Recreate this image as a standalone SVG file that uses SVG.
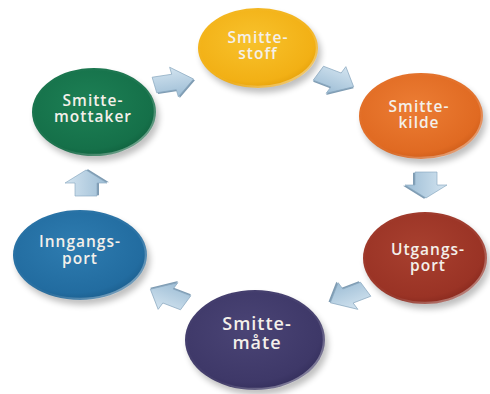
<svg xmlns="http://www.w3.org/2000/svg" width="490" height="394" viewBox="0 0 490 394">
<defs>
<style>
.lbl{font-family:"Open Sans","Liberation Sans",sans-serif;font-weight:600;font-size:15.5px;letter-spacing:1px;fill:#f4f0ea;text-anchor:middle}
.big{font-size:18px;letter-spacing:1px}
.arr{fill:url(#gArr);stroke:#8aa9c0;stroke-width:0.8}
.arrd{fill:#7f9cb3}
.sh{fill:#000;opacity:0.25;filter:url(#blur)}
.rim{fill:none;stroke:url(#gRim);stroke-width:2.5}
</style>
<filter id="blur" x="-20%" y="-20%" width="140%" height="140%"><feGaussianBlur stdDeviation="3"/></filter>
<linearGradient id="gArr" x1="0" y1="0" x2="0" y2="1">
<stop offset="0" stop-color="#d3e4f0"/><stop offset="1" stop-color="#9dbdd5"/>
</linearGradient>
<linearGradient id="gRim" x1="0" y1="0" x2="1" y2="1">
<stop offset="0" stop-color="#fff" stop-opacity="0"/><stop offset="0.6" stop-color="#fff" stop-opacity="0.05"/><stop offset="1" stop-color="#fff" stop-opacity="0.55"/>
</linearGradient>
<radialGradient id="gY" cx="0.45" cy="0.4" r="0.65"><stop offset="0" stop-color="#f8c22c"/><stop offset="0.8" stop-color="#f2b015"/><stop offset="1" stop-color="#e19c08"/></radialGradient>
<radialGradient id="gO" cx="0.45" cy="0.4" r="0.65"><stop offset="0" stop-color="#ec7d34"/><stop offset="0.8" stop-color="#e06a22"/><stop offset="1" stop-color="#c85918"/></radialGradient>
<radialGradient id="gR" cx="0.45" cy="0.4" r="0.65"><stop offset="0" stop-color="#a8402f"/><stop offset="0.8" stop-color="#9a3325"/><stop offset="1" stop-color="#82261c"/></radialGradient>
<radialGradient id="gP" cx="0.45" cy="0.4" r="0.65"><stop offset="0" stop-color="#4a4475"/><stop offset="0.8" stop-color="#3e3868"/><stop offset="1" stop-color="#312c58"/></radialGradient>
<radialGradient id="gB" cx="0.45" cy="0.4" r="0.65"><stop offset="0" stop-color="#2e7cb0"/><stop offset="0.8" stop-color="#226ca0"/><stop offset="1" stop-color="#1a5a88"/></radialGradient>
<radialGradient id="gG" cx="0.45" cy="0.4" r="0.65"><stop offset="0" stop-color="#1d8055"/><stop offset="0.8" stop-color="#157049"/><stop offset="1" stop-color="#0f5e3c"/></radialGradient>
<g id="arrow">
<path class="arrd" d="M-19,-9 H1 V-19 L21,2 L1,23 V13 H-19 Z"/>
<path class="arr" d="M-20,-11 H0 V-21 L20,0 L0,21 V11 H-20 Z"/>
</g>
</defs>
<rect width="490" height="394" fill="#fff"/>

<g id="connectors">
<use href="#arrow" transform="translate(174,82) scale(1,0.72) rotate(-12)"/>
<use href="#arrow" transform="translate(336,80) scale(1,0.72) rotate(28)"/>
<use href="#arrow" transform="translate(426,185) scale(1,0.65) rotate(90)"/>
<use href="#arrow" transform="translate(348,296) scale(1,0.72) rotate(152)"/>
<use href="#arrow" transform="translate(168,296) scale(1,0.72) rotate(-152)"/>
<use href="#arrow" transform="translate(86,183) scale(1,0.65) rotate(-90)"/>
</g>

<g id="smittestoff">
<ellipse class="sh" cx="261" cy="53" rx="60" ry="40"/>
<ellipse cx="258" cy="48" rx="60" ry="40" fill="url(#gY)"/>
<ellipse class="rim" cx="258" cy="48" rx="59" ry="39"/>
<text class="lbl" x="258" y="43">Smitte-</text>
<text class="lbl" x="258" y="59">stoff</text>
</g>

<g id="smittekilde">
<ellipse class="sh" cx="424" cy="121" rx="62" ry="43"/>
<ellipse cx="421" cy="116" rx="62" ry="43" fill="url(#gO)"/>
<ellipse class="rim" cx="421" cy="116" rx="61" ry="42"/>
<text class="lbl" x="419" y="112">Smitte-</text>
<text class="lbl" x="419" y="128">kilde</text>
</g>

<g id="utgangsport">
<ellipse class="sh" cx="428" cy="263" rx="62" ry="46"/>
<ellipse cx="425" cy="258" rx="62" ry="46" fill="url(#gR)"/>
<ellipse class="rim" cx="425" cy="258" rx="61" ry="45"/>
<text class="lbl" x="428" y="255">Utgangs-</text>
<text class="lbl" x="428" y="271">port</text>
</g>

<g id="smittemate">
<ellipse class="sh" cx="258" cy="345" rx="70" ry="50"/>
<ellipse cx="255" cy="340" rx="70" ry="50" fill="url(#gP)"/>
<ellipse class="rim" cx="255" cy="340" rx="69" ry="49"/>
<text class="lbl big" x="257" y="330">Smitte-</text>
<text class="lbl big" x="257" y="349">måte</text>
</g>

<g id="inngangsport">
<ellipse class="sh" cx="83" cy="260" rx="67" ry="45"/>
<ellipse cx="80" cy="255" rx="67" ry="45" fill="url(#gB)"/>
<ellipse class="rim" cx="80" cy="255" rx="66" ry="44"/>
<text class="lbl" x="80" y="247">Inngangs-</text>
<text class="lbl" x="80" y="264">port</text>
</g>

<g id="smittemottaker">
<ellipse class="sh" cx="97" cy="117" rx="62" ry="44"/>
<ellipse cx="94" cy="112" rx="62" ry="44" fill="url(#gG)"/>
<ellipse class="rim" cx="94" cy="112" rx="61" ry="43"/>
<text class="lbl" x="93" y="106">Smitte-</text>
<text class="lbl" x="93" y="122">mottaker</text>
</g>
</svg>
